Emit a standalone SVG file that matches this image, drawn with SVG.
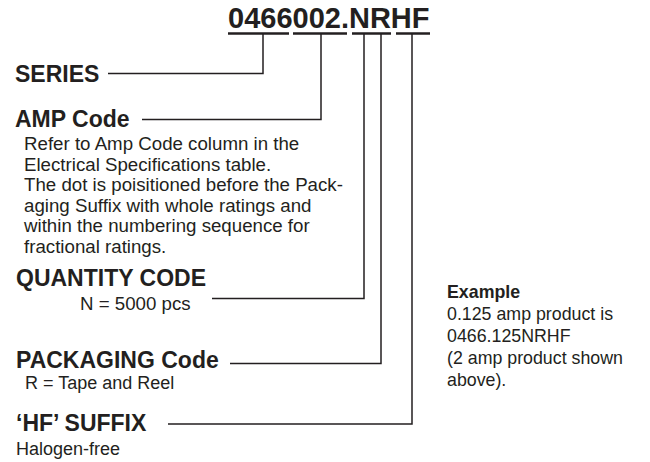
<svg xmlns="http://www.w3.org/2000/svg" width="650" height="462" viewBox="0 0 650 462">
<style>
.h{font-family:"Liberation Sans",Arial,sans-serif;font-weight:bold;font-size:23px;fill:#231f20}
.b{font-family:"Liberation Sans",Arial,sans-serif;font-size:18.7px;fill:#231f20}
.s{font-family:"Liberation Sans",Arial,sans-serif;font-size:18px;fill:#231f20}
.e{font-family:"Liberation Sans",Arial,sans-serif;font-size:17.8px;fill:#231f20}
.t{font-family:"Liberation Sans",Arial,sans-serif;font-weight:bold;font-size:29px;fill:#231f20}
.c{fill:none;stroke:#231f20;stroke-width:1.5}
.u{stroke:#231f20;stroke-width:2.5}
</style>
<rect width="650" height="462" fill="#fff"/>
<g id="title">
<text class="t" x="228" y="28">0466002.NRHF</text>
<line class="u" x1="228" y1="33.5" x2="289" y2="33.5"/>
<line class="u" x1="293" y1="33.5" x2="347" y2="33.5"/>
<line class="u" x1="352" y1="33.5" x2="391" y2="33.5"/>
<line class="u" x1="396" y1="33.5" x2="430" y2="33.5"/>
</g>
<g id="connectors">
<polyline class="c" points="108,73.5 263,73.5 263,34"/>
<polyline class="c" points="142,119.5 321,119.5 321,34"/>
<polyline class="c" points="212,298.5 364,298.5 364,34"/>
<polyline class="c" points="230,363.5 381,363.5 381,34"/>
<polyline class="c" points="168,424 412,424 412,34"/>
</g>
<g id="series">
<text class="h" x="15" y="82">SERIES</text>
</g>
<g id="amp">
<text class="h" x="15" y="127">AMP Code</text>
<text class="b" x="24" y="150">Refer to Amp Code column in the</text>
<text class="b" x="24" y="170.5">Electrical Specifications table.</text>
<text class="b" x="24" y="191">The dot is poisitioned before the Pack-</text>
<text class="b" x="24" y="211.5">aging Suffix with whole ratings and</text>
<text class="b" x="24" y="232">within the numbering sequence for</text>
<text class="b" x="24" y="252.5">fractional ratings.</text>
</g>
<g id="quantity">
<text class="h" x="16" y="286">QUANTITY CODE</text>
<text class="b" x="80" y="310">N = 5000 pcs</text>
</g>
<g id="packaging">
<text class="h" x="16" y="368">PACKAGING Code</text>
<text class="s" x="25" y="389">R = Tape and Reel</text>
</g>
<g id="hf">
<text class="h" x="16" y="431">‘HF’ SUFFIX</text>
<text class="s" x="16" y="455">Halogen-free</text>
</g>
<g id="example">
<text class="e" x="447" y="298" font-weight="bold">Example</text>
<text class="e" x="447" y="320">0.125 amp product is</text>
<text class="e" x="447" y="342">0466.125NRHF</text>
<text class="e" x="447" y="364">(2 amp product shown</text>
<text class="e" x="447" y="386">above).</text>
</g>
</svg>
